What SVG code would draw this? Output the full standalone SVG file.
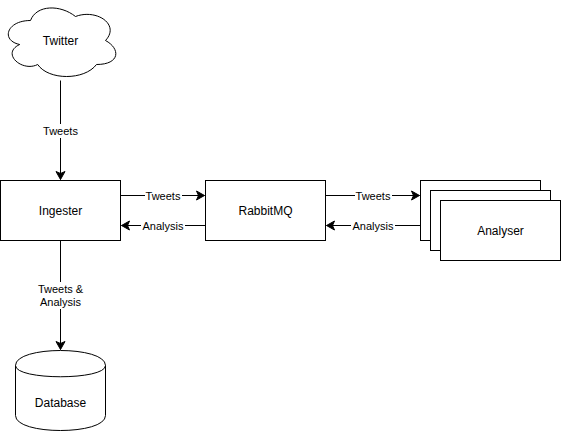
<svg xmlns="http://www.w3.org/2000/svg" width="561" height="431" viewBox="0 0 561 431">
<style>
.n{fill:#fff;stroke:#000;stroke-width:1}
.t{font-family:"Liberation Sans",Arial,sans-serif;font-size:12px;fill:#000;text-anchor:middle;dominant-baseline:central}
.l{font-family:"Liberation Sans",Arial,sans-serif;font-size:11px;fill:#000;text-anchor:middle;dominant-baseline:central}
.e{fill:none;stroke:#000;stroke-width:1}
.bg{fill:#fff}
</style>
<defs>
<marker id="a" markerUnits="userSpaceOnUse" markerWidth="10" markerHeight="10" refX="8" refY="4.5" orient="auto" overflow="visible">
<path d="M0,0 L8,4.5 L0,9 L2,4.5 Z" fill="#000" stroke="#000" stroke-width="1"/>
</marker>
</defs>
<rect width="561" height="431" fill="#fff"/>
<g id="connectors">
<path class="e" d="M60.5,80.5 V179.5" marker-end="url(#a)"/>
<rect class="bg" x="42" y="124" width="37" height="14"/>
<text class="l" x="60.5" y="131">Tweets</text>
<path class="e" d="M120.5,195.5 H204.5" marker-end="url(#a)"/>
<rect class="bg" x="145" y="189" width="37" height="13"/>
<text class="l" x="163" y="195.5">Tweets</text>
<path class="e" d="M205.5,225.5 H121.5" marker-end="url(#a)"/>
<rect class="bg" x="141" y="219" width="44" height="13"/>
<text class="l" x="163" y="225.5">Analysis</text>
<path class="e" d="M325.5,195.5 H419.5" marker-end="url(#a)"/>
<rect class="bg" x="355" y="189" width="37" height="13"/>
<text class="l" x="373" y="195.5">Tweets</text>
<path class="e" d="M420.5,225.5 H326.5" marker-end="url(#a)"/>
<rect class="bg" x="351" y="219" width="44" height="13"/>
<text class="l" x="373" y="225.5">Analysis</text>
<path class="e" d="M60.5,240.5 V349.5" marker-end="url(#a)"/>
<rect class="bg" x="37" y="282" width="47" height="27"/>
<text class="l" x="60.5" y="289">Tweets &amp;</text>
<text class="l" x="60.5" y="302">Analysis</text>
</g>
<g id="twitter">
<path class="n" d="M30.5,20.5 C6.5,20.5 0.5,40.5 19.7,44.5 C0.5,53.3 22.1,72.5 37.7,64.5 C48.5,80.5 84.5,80.5 96.5,64.5 C120.5,64.5 120.5,48.5 105.5,40.5 C120.5,24.5 96.5,8.5 75.5,16.5 C60.5,4.5 36.5,4.5 30.5,20.5 Z"/>
<text class="t" x="60.5" y="40.5">Twitter</text>
</g>
<g id="ingester">
<rect class="n" x="0.5" y="180.5" width="120" height="60"/>
<text class="t" x="60.5" y="210.5">Ingester</text>
</g>
<g id="rabbitmq">
<rect class="n" x="205.5" y="180.5" width="120" height="60"/>
<text class="t" x="265.5" y="210.5">RabbitMQ</text>
</g>
<g id="analyser">
<rect class="n" x="420.5" y="180.5" width="120" height="60"/>
<rect class="n" x="430.5" y="190.5" width="120" height="60"/>
<rect class="n" x="440.5" y="200.5" width="120" height="60"/>
<text class="t" x="500.5" y="230.5">Analyser</text>
</g>
<g id="database">
<path class="n" d="M15.5,365.5 C15.5,345.5 105.5,345.5 105.5,365.5 V415.5 C105.5,435.5 15.5,435.5 15.5,415.5 Z"/>
<path class="e" d="M15.5,365.5 C15.5,380.5 105.5,380.5 105.5,365.5"/>
<text class="t" x="60.5" y="403">Database</text>
</g>
</svg>
